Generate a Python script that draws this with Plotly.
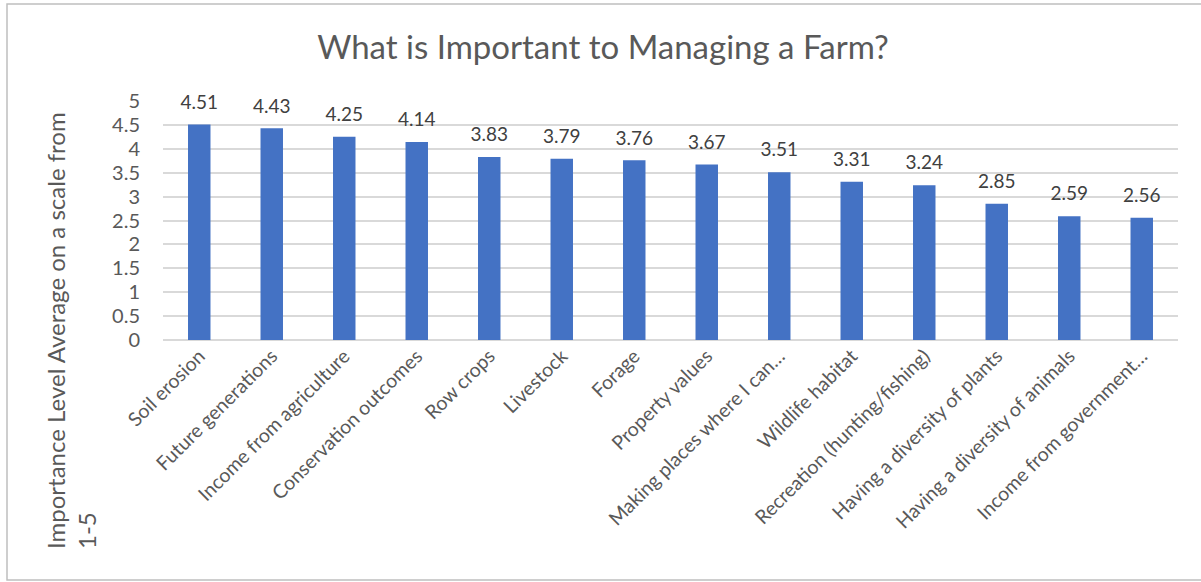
import plotly.graph_objects as go

categories = [
    "Soil erosion", "Future generations", "Income from agriculture",
    "Conservation outcomes", "Row crops", "Livestock", "Forage",
    "Property values", "Making places where I can…", "Wildlife habitat",
    "Recreation (hunting/fishing)", "Having a diversity of plants",
    "Having a diversity of animals", "Income from government…",
]
values = [4.51, 4.43, 4.25, 4.14, 3.83, 3.79, 3.76, 3.67, 3.51, 3.31, 3.24, 2.85, 2.59, 2.56]
y_ticks = [0, 0.5, 1, 1.5, 2, 2.5, 3, 3.5, 4, 4.5, 5]
y_tick_labels = ["0", "0.5", "1", "1.5", "2", "2.5", "3", "3.5", "4", "4.5", "5"]

FONT = "Lato, 'Open Sans', sans-serif"

fig = go.Figure()
fig.add_trace(go.Bar(
    x=categories, y=values,
    marker=dict(color="#4472C4", line=dict(width=0)),
    hoverinfo="x+y",
))
fig.add_trace(go.Scatter(
    x=categories, y=values, mode="markers+text",
    marker=dict(size=16, opacity=0),
    text=[f"{v:.2f}" for v in values],
    textposition="top center",
    textfont=dict(size=19, color="#404040", family=FONT),
    cliponaxis=False, hoverinfo="skip",
))

W, H = 1201, 582
L, R, T, B = 163, 23, 101, 242
pw, ph = W - L - R, H - T - B

def px_to_paper_x(px):
    return (px - L) / pw

def px_to_paper_y(py):
    return (H - B - py) / ph

fig.update_layout(
    width=W, height=H,
    margin=dict(l=L, r=R, t=T, b=B, pad=0),
    paper_bgcolor="white", plot_bgcolor="white",
    showlegend=False,
    bargap=0.69,
    title=dict(text="What is Important to Managing a Farm?",
               font=dict(size=33, color="#595959", family=FONT),
               x=603 / W, xanchor="center",
               y=1 - 47 / H, yanchor="middle"),
    xaxis=dict(range=[-0.5, len(categories) - 0.5],
               tickangle=-45, tickfont=dict(size=19.5, color="#595959", family=FONT),
               showgrid=False, showline=False, ticks="", automargin=False),
    yaxis=dict(range=[0, 5], tickvals=y_ticks, ticktext=y_tick_labels,
               tickfont=dict(size=20, color="#595959", family=FONT),
               showgrid=True, gridcolor="#d9d9d9", gridwidth=1.5,
               zeroline=True, zerolinecolor="#d9d9d9", zerolinewidth=1.5,
               showline=False, ticks="", ticklabelstandoff=22, automargin=False),
    annotations=[dict(
        text="Importance Level Average on a scale from<br>1-5",
        textangle=-90, align="left",
        xref="paper", yref="paper",
        x=px_to_paper_x(71), y=px_to_paper_y(331),
        xanchor="center", yanchor="middle", showarrow=False,
        font=dict(size=24, color="#595959", family=FONT),
    )],
    shapes=[dict(type="rect", xref="paper", yref="paper",
                 x0=px_to_paper_x(7), x1=px_to_paper_x(1205),
                 y0=px_to_paper_y(580), y1=px_to_paper_y(4),
                 line=dict(color="#bfbfbf", width=1.5), layer="below")],
)

fig.write_html("out.html", config={"displayModeBar": False},
               post_script="document.body.style.margin='0';document.body.style.overflow='hidden';")
